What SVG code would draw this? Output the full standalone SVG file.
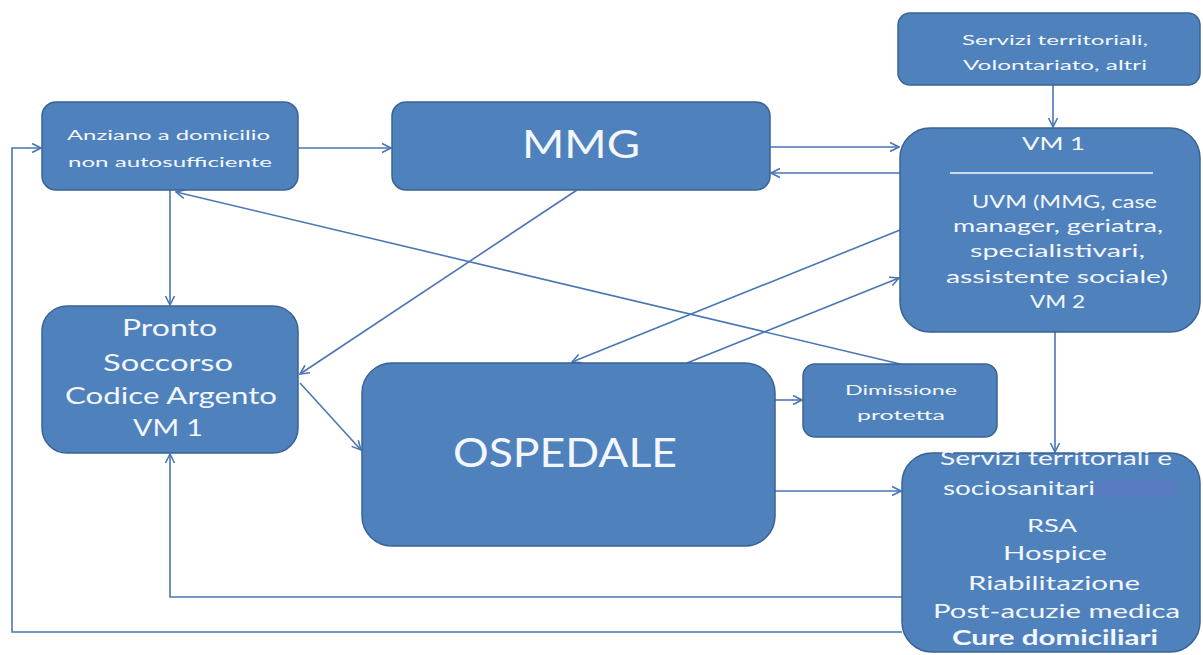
<svg xmlns="http://www.w3.org/2000/svg" width="1203" height="655" viewBox="0 0 1203 655">
<style>
.box{fill:#4f81bd;stroke:#3a6394;stroke-width:1.5}
.t{fill:#f3f7fd;font-family:Lato,"Open Sans","Liberation Sans",sans-serif}
.c{fill:none;stroke:#4a76b4;stroke-width:1.6}
</style>
<defs>
<marker id="a" markerUnits="userSpaceOnUse" markerWidth="12" markerHeight="12" viewBox="0 0 12 12" refX="11" refY="6" orient="auto">
<path d="M2,1.5 L11,6 L2,10.5" fill="none" stroke="#4a76b4" stroke-width="1.6"/>
</marker>
</defs>
<rect width="1203" height="655" fill="#ffffff"/>
<g id="connectors" class="c">
<path d="M298,148 H391" marker-end="url(#a)"/>
<path d="M770,147 H899" marker-end="url(#a)"/>
<path d="M900,173 H771" marker-end="url(#a)"/>
<path d="M1053,85 V127" marker-end="url(#a)"/>
<path d="M170,190 V305" marker-end="url(#a)"/>
<path d="M902,632 H12 V148 H41" marker-end="url(#a)"/>
<path d="M902,597 H170 V454" marker-end="url(#a)"/>
<path d="M577,190 L300,374" marker-end="url(#a)"/>
<path d="M300,383 L361,450" marker-end="url(#a)"/>
<path d="M900,364 L176,192" marker-end="url(#a)"/>
<path d="M900,230 L572,362" marker-end="url(#a)"/>
<path d="M687,363 L899,278" marker-end="url(#a)"/>
<path d="M775,400 H802" marker-end="url(#a)"/>
<path d="M775,491 H901" marker-end="url(#a)"/>
<path d="M1055,332 V452" marker-end="url(#a)"/>
</g>
<g id="anziano">
<rect class="box" x="42" y="102" width="256" height="88" rx="14"/>
<text class="t" x="67" y="140" font-size="14" textLength="203" lengthAdjust="spacingAndGlyphs">Anziano a domicilio</text>
<text class="t" x="68" y="167" font-size="14" textLength="204" lengthAdjust="spacingAndGlyphs">non autosufficiente</text>
</g>
<g id="mmg">
<rect class="box" x="392" y="102" width="378" height="88" rx="14"/>
<text class="t" x="522" y="158" font-size="39" textLength="118" lengthAdjust="spacingAndGlyphs">MMG</text>
</g>
<g id="servizi-top">
<rect class="box" x="898" y="13" width="302" height="72" rx="12"/>
<text class="t" x="962" y="45" font-size="14" textLength="186" lengthAdjust="spacingAndGlyphs">Servizi territoriali,</text>
<text class="t" x="963" y="70" font-size="14" textLength="184" lengthAdjust="spacingAndGlyphs">Volontariato, altri</text>
</g>
<g id="uvm">
<rect class="box" x="900" y="128" width="300" height="204" rx="30"/>
<text class="t" x="1022" y="150" font-size="17" textLength="63" lengthAdjust="spacingAndGlyphs">VM 1</text>
<line x1="950" y1="173" x2="1153" y2="173" stroke="#f3f7fd" stroke-width="1.5"/>
<text class="t" x="972" y="208" font-size="18" textLength="185" lengthAdjust="spacingAndGlyphs">UVM (MMG, case</text>
<text class="t" x="953" y="232" font-size="18" textLength="210" lengthAdjust="spacingAndGlyphs">manager, geriatra,</text>
<text class="t" x="970" y="257" font-size="18" textLength="175" lengthAdjust="spacingAndGlyphs">specialistivari,</text>
<text class="t" x="946" y="283" font-size="18" textLength="222" lengthAdjust="spacingAndGlyphs">assistente sociale)</text>
<text class="t" x="1030" y="308" font-size="17" textLength="55" lengthAdjust="spacingAndGlyphs">VM 2</text>
</g>
<g id="pronto">
<rect class="box" x="42" y="306" width="256" height="147" rx="25"/>
<text class="t" x="122" y="336" font-size="24" textLength="95" lengthAdjust="spacingAndGlyphs">Pronto</text>
<text class="t" x="103" y="371" font-size="24" textLength="130" lengthAdjust="spacingAndGlyphs">Soccorso</text>
<text class="t" x="65" y="404" font-size="24" textLength="212" lengthAdjust="spacingAndGlyphs">Codice Argento</text>
<text class="t" x="133" y="436" font-size="24" textLength="70" lengthAdjust="spacingAndGlyphs">VM 1</text>
</g>
<g id="ospedale">
<rect class="box" x="362" y="363" width="413" height="183" rx="30"/>
<text class="t" x="453" y="467" font-size="40" textLength="224" lengthAdjust="spacingAndGlyphs">OSPEDALE</text>
</g>
<g id="dimissione">
<rect class="box" x="803" y="364" width="194" height="73" rx="12"/>
<text class="t" x="845" y="395" font-size="14" textLength="112" lengthAdjust="spacingAndGlyphs">Dimissione</text>
<text class="t" x="857" y="420" font-size="14" textLength="88" lengthAdjust="spacingAndGlyphs">protetta</text>
</g>
<g id="servizi-bottom">
<rect class="box" x="902" y="453" width="298" height="199" rx="30"/>
<rect x="1095" y="481" width="80" height="16" rx="3" fill="#6470c4" opacity="0.45"/>
<text class="t" x="940" y="465" font-size="20" textLength="232" lengthAdjust="spacingAndGlyphs">Servizi territoriali e</text>
<text class="t" x="943" y="495" font-size="20" textLength="152" lengthAdjust="spacingAndGlyphs">sociosanitari</text>
<text class="t" x="1027" y="532" font-size="17" textLength="50" lengthAdjust="spacingAndGlyphs">RSA</text>
<text class="t" x="1003" y="560" font-size="19" textLength="104" lengthAdjust="spacingAndGlyphs">Hospice</text>
<text class="t" x="968" y="590" font-size="20" textLength="172" lengthAdjust="spacingAndGlyphs">Riabilitazione</text>
<text class="t" x="933" y="618" font-size="20" textLength="247" lengthAdjust="spacingAndGlyphs">Post-acuzie medica</text>
<text class="t" x="952" y="645" font-size="20" font-weight="bold" textLength="206" lengthAdjust="spacingAndGlyphs">Cure domiciliari</text>
</g>
</svg>
